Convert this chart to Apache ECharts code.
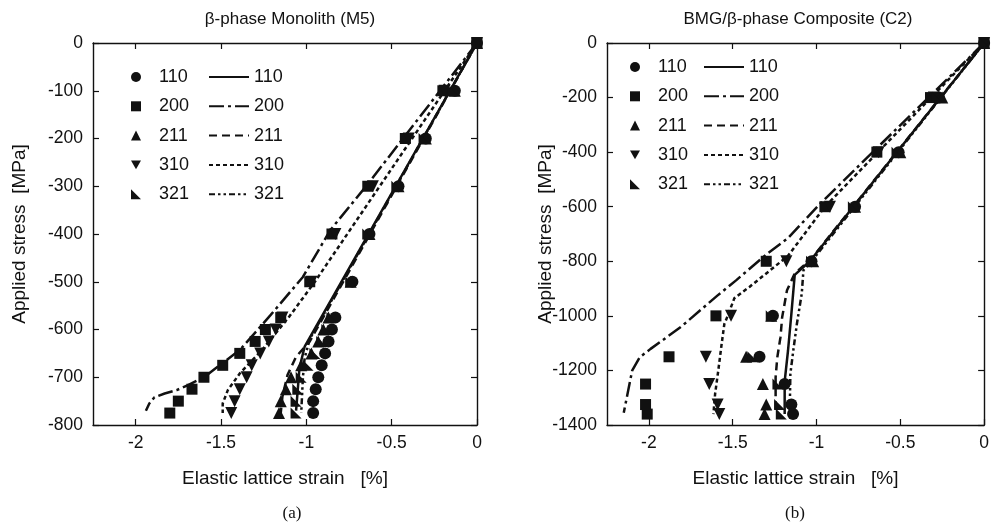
<!DOCTYPE html>
<html>
<head>
<meta charset="utf-8">
<script src="https://cdn.jsdelivr.net/npm/echarts@6/dist/echarts.min.js"></script>
<style>
  html, body { margin: 0; background: #fff; }
  #chart { width: 992px; height: 524px; }
</style>
</head>
<body>
<div id="chart"></div>
<script>
const strainTicks = [-2, -1.5, -1, -0.5, 0]

// (a) beta-phase monolith: applied stress levels and measured strains per reflection
const stressA = [0, -100, -200, -300, -400, -500, -575, -600, -625, -650, -675, -700, -725, -750, -775]
const a110 = [0, -0.13, -0.30, -0.46, -0.63, -0.73, -0.83, -0.85, -0.87, -0.89, -0.91, -0.93, -0.945, -0.96, -0.96]
const a200 = [0, -0.20, -0.42, -0.64, -0.85, -0.98, -1.15, -1.24, -1.30, -1.39, -1.49, -1.60, -1.67, -1.75, -1.80]
const a211 = [0, -0.13, -0.30, -0.46, -0.63, -0.74, -0.87, -0.90, -0.93, -0.97, -1.03, -1.09, -1.12, -1.15, -1.16]
const a310 = [0, -0.19, -0.40, -0.61, -0.83, -0.97, -1.14, -1.18, -1.22, -1.27, -1.32, -1.35, -1.39, -1.42, -1.44]
const a321 = [0, -0.14, -0.31, -0.47, -0.64, -0.74, -0.85, -0.88, -0.91, -0.95, -0.99, -1.03, -1.05, -1.06, -1.06]

// (a) model curves [strain, stress]
const lineA110 = [[0, 0], [-1.01, -636], [-1.04, -680], [-1.06, -770]]
const lineA200 = [[0, 0], [-0.65, -300], [-0.86, -392], [-1.02, -490], [-1.21, -570], [-1.39, -643], [-1.49, -670],
  [-1.60, -700], [-1.69, -716], [-1.76, -727], [-1.83, -734], [-1.89, -742], [-1.92, -755], [-1.94, -770]]
const lineA211 = [[0, 0], [-0.98, -625], [-1.06, -657], [-1.11, -695], [-1.14, -740], [-1.15, -775]]
const lineA310 = [[0, 0], [-0.57, -300], [-0.95, -500], [-1.10, -573], [-1.26, -643], [-1.39, -692], [-1.46, -727],
  [-1.49, -755], [-1.49, -775]]
const lineA321 = [[0, 0], [-0.98, -620], [-1.01, -660], [-1.02, -700], [-1.03, -775]]

// (b) BMG / beta-phase composite
const stressB = [0, -200, -400, -600, -800, -1000, -1150, -1250, -1325, -1360]
const b110 = [0, -0.27, -0.51, -0.77, -1.03, -1.26, -1.34, -1.19, -1.15, -1.14]
const b200 = [0, -0.32, -0.64, -0.95, -1.30, -1.60, -1.88, -2.02, -2.02, -2.01]
const b211 = [0, -0.25, -0.50, -0.77, -1.02, -1.27, -1.42, -1.32, -1.30, -1.31]
const b310 = [0, -0.30, -0.63, -0.92, -1.18, -1.51, -1.66, -1.64, -1.59, -1.58]
const b321 = [0, -0.28, -0.52, -0.78, -1.03, -1.27, -1.38, -1.23, -1.22, -1.21]

const lineB110 = [[0, 0], [-1.04, -800], [-1.13, -850], [-1.15, -993], [-1.17, -1127], [-1.19, -1240], [-1.19, -1360]]
const lineB200 = [[0, 0], [-0.98, -590], [-1.17, -715], [-1.30, -775], [-1.48, -870], [-1.59, -925], [-1.81, -1041],
  [-1.99, -1121], [-2.055, -1152], [-2.10, -1201], [-2.15, -1355]]
const lineB211 = [[0, 0], [-1.03, -790], [-1.13, -845], [-1.176, -906], [-1.205, -1005], [-1.215, -1078],
  [-1.234, -1152], [-1.244, -1225], [-1.244, -1360]]
const lineB310 = [[0, 0], [-0.95, -600], [-1.17, -780], [-1.40, -894], [-1.49, -935], [-1.53, -1000], [-1.55, -1030],
  [-1.566, -1103], [-1.586, -1200], [-1.605, -1286], [-1.615, -1360]]
const lineB321 = [[0, 0], [-1.03, -800], [-1.078, -833], [-1.088, -918], [-1.117, -1029], [-1.136, -1115],
  [-1.156, -1212], [-1.16, -1360]]

const INK = '#111'
const FONT = 'Liberation Sans'
const SYM = {
  '110': 'circle',
  '200': 'rect',
  '211': 'triangle',
  '310': 'path://M0,0 L2,0 L1,1.75 Z',
  '321': 'path://M0,0 L0,1 L1,1 Z'
}
const DASH = {
  '110': 'solid',
  '200': [15, 4, 3, 4],
  '211': [8, 5],
  '310': [4, 3],
  '321': [6, 3, 2.5, 3, 2.5, 3]
}
const SIZE = { '110': 12, '200': 11, '211': 12, '310': 12, '321': 11 }

function markers(name, strains, stresses, ax) {
  return {
    type: 'scatter', name, xAxisIndex: ax, yAxisIndex: ax,
    data: strains.map((x, i) => [x, stresses[i]]),
    symbol: SYM[name], symbolSize: SIZE[name],
    itemStyle: { color: INK, opacity: 1 }, z: 3
  }
}

function curve(name, pts, ax) {
  return {
    type: 'line', name: name + ' ', xAxisIndex: ax, yAxisIndex: ax,
    data: pts, symbol: 'none', showSymbol: false,
    lineStyle: { color: INK, width: 2.5, type: DASH[name] },
    itemStyle: { color: INK }, z: 2
  }
}

const axisLine = { onZero: false, lineStyle: { color: INK, width: 1.4 } }
const tickIn = { inside: true, length: 6, lineStyle: { color: INK, width: 1.2 } }
const labelStyle = { color: INK, fontFamily: FONT, fontSize: 17.5, formatter: v => String(v) }
const nameStyle = { color: INK, fontFamily: FONT, fontSize: 19 }

function xAxes(gi) {
  return [
    {
      gridIndex: gi, type: 'value', min: -2.25, max: 0, position: 'bottom',
      axisLine, splitLine: { show: false },
      axisTick: Object.assign({ customValues: strainTicks }, tickIn),
      axisLabel: Object.assign({ customValues: strainTicks, margin: 9 }, labelStyle),
      name: 'Elastic lattice strain   [%]', nameLocation: 'middle', nameGap: 44, nameTextStyle: nameStyle,
      nameMoveOverlap: false
    },
    {
      gridIndex: gi, type: 'value', min: -2.25, max: 0, position: 'top',
      axisLine, splitLine: { show: false },
      axisTick: Object.assign({ customValues: strainTicks }, tickIn),
      axisLabel: { show: false }
    }
  ]
}

function yAxes(gi, min, step, gap) {
  return [
    {
      gridIndex: gi, type: 'value', min, max: 0, interval: step, position: 'left',
      axisLine, axisTick: tickIn, splitLine: { show: false },
      axisLabel: Object.assign({ margin: 10 }, labelStyle),
      name: 'Applied stress  [MPa]', nameLocation: 'middle', nameRotate: 90, nameGap: gap,
      nameTextStyle: nameStyle, nameMoveOverlap: false
    },
    {
      gridIndex: gi, type: 'value', min, max: 0, interval: step, position: 'right',
      axisLine, axisTick: tickIn, splitLine: { show: false }, axisLabel: { show: false }
    }
  ]
}

const names = ['110', '200', '211', '310', '321']
const legendText = { color: INK, fontFamily: FONT, fontSize: 18, lineHeight: 20 }

function markerLegend(left, top) {
  return {
    data: names, orient: 'vertical', left, top, padding: 0, itemWidth: 10, itemHeight: 10, itemGap: 9.3,
    selectedMode: false, textStyle: Object.assign({ padding: [0, 0, 0, 13] }, legendText)
  }
}
function lineLegend(left, top) {
  return {
    data: names.map(n => n + ' '), orient: 'vertical', left, top, padding: 0, itemWidth: 40, itemHeight: 12,
    itemGap: 9.3, selectedMode: false, textStyle: legendText, formatter: n => n.trim(),
    itemStyle: { opacity: 0 }
  }
}

const series = []
;[a110, a200, a211, a310, a321].forEach((s, i) => series.push(markers(names[i], s, stressA, 0)))
;[lineA110, lineA200, lineA211, lineA310, lineA321].forEach((p, i) => series.push(curve(names[i], p, 0)))
;[b110, b200, b211, b310, b321].forEach((s, i) => series.push(markers(names[i], s, stressB, 2)))
;[lineB110, lineB200, lineB211, lineB310, lineB321].forEach((p, i) => series.push(curve(names[i], p, 2)))

const serif = { fontFamily: 'Liberation Serif', fontSize: 17, fontWeight: 'normal', color: INK }
const sans = { fontFamily: FONT, fontSize: 17, fontWeight: 'normal', color: INK }

const chart = echarts.init(document.getElementById('chart'))
chart.setOption({
  animation: false,
  backgroundColor: '#fff',
  title: [
    { text: 'β-phase Monolith (M5)', left: 285, top: 6, textAlign: 'center', textStyle: sans },
    { text: 'BMG/β-phase Composite (C2)', left: 793, top: 6, textAlign: 'center', textStyle: sans },
    { text: '(a)', left: 287, top: 500, textAlign: 'center', textStyle: serif },
    { text: '(b)', left: 790, top: 500, textAlign: 'center', textStyle: serif }
  ],
  legend: [
    markerLegend(131, 67),
    lineLegend(208, 67),
    markerLegend(630, 57),
    lineLegend(703, 57)
  ],
  grid: [
    { left: 93, top: 43, width: 384, height: 382 },
    { left: 607, top: 43, width: 384, height: 382 }
  ],
  xAxis: [...xAxes(0), ...xAxes(1)],
  yAxis: [...yAxes(0, -800, 100, 64), ...yAxes(1, -1400, 200, 52)],
  series
})
</script>
</body>
</html>
